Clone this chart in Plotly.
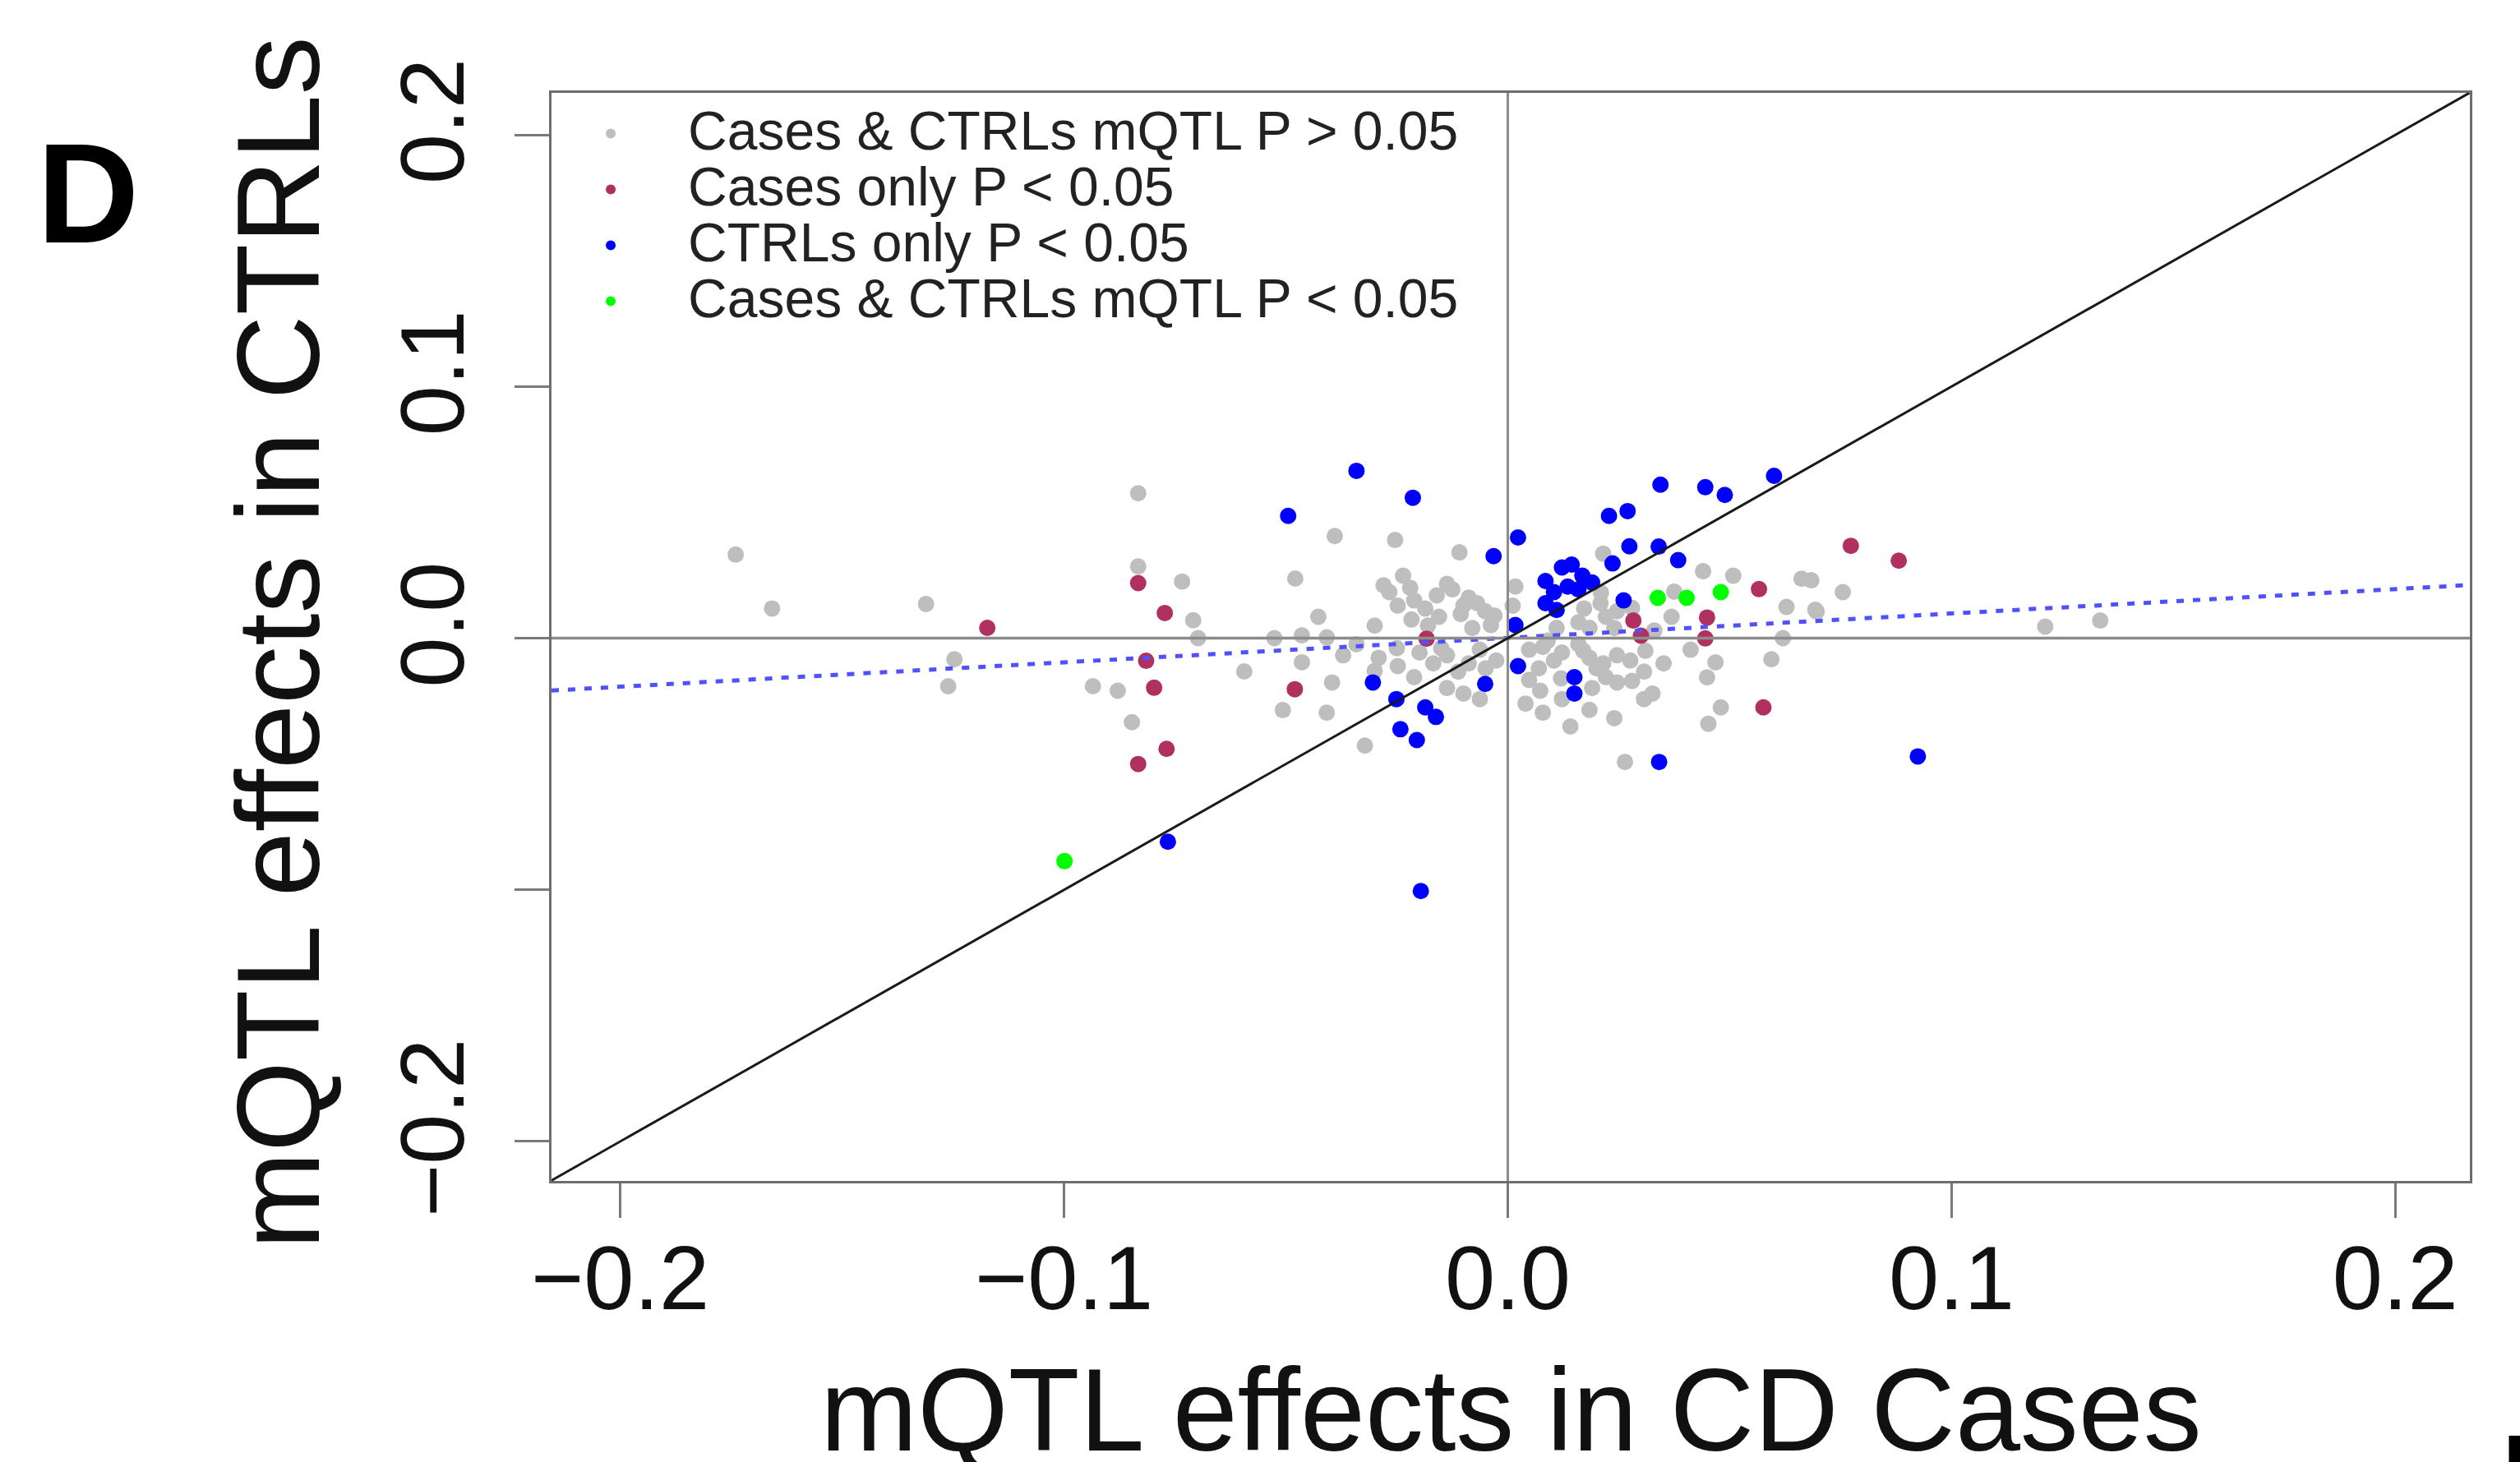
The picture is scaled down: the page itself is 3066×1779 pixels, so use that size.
import plotly.graph_objects as go

# ---------------- data ----------------
gray_x = [-0.174, -0.1658, -0.1311, -0.1261, -0.1247, -0.0833, -0.0833, -0.0734, -0.0709, -0.0935,
          -0.0879, -0.0847, -0.0698, -0.0594, -0.0479, -0.0526, -0.0464, -0.0464, -0.0507,
          -0.039, -0.0254, -0.0109, -0.0427, -0.0236, -0.0267, -0.0248, -0.0211, -0.0186, -0.0137,
          -0.0125, -0.0088, -0.0069, -0.0051, -0.0106, -0.0155, -0.0217, -0.0038, 0.0017, 0.0011,
          -0.0408, -0.0341, -0.0371, -0.0291, -0.0248, -0.0199, -0.0168, -0.0137, -0.0112, -0.0088,
          -0.0063, -0.0026, -0.0396, -0.0408, -0.0322, -0.010, -0.0063, -0.0137, -0.0211,
          0.0215, 0.0172, 0.0209, 0.0221, 0.0159, 0.011, 0.0184, 0.0246, 0.0369, 0.0412,
          0.0048, 0.0079, 0.0104, 0.0122, 0.0159, 0.0184, 0.0215, 0.0246, 0.0276, 0.0307,
          0.0351, 0.0326, 0.0307, 0.0246, 0.019, 0.0122, 0.0073, 0.0079, 0.0184, 0.024,
          0.0141, 0.0264, 0.0221, 0.0048,
          0.044, 0.0508, 0.0662, 0.0628, 0.0693, 0.062, 0.0594, 0.0468, 0.0449, 0.048, 0.0452, 0.0375,
          0.0684, 0.0755, 0.0696, 0.1211, 0.1335,
          -0.028, -0.022, -0.016, -0.010, -0.003, -0.018, -0.008, -0.030,
          0.007, 0.012, 0.020, 0.028, 0.017, 0.009, 0.031, 0.004, -0.005, -0.015, -0.025, -0.030,
          0.021, 0.024, 0.028, 0.033]
gray_y = [0.0332, 0.0118, 0.0136, -0.0191, -0.0084, 0.0576, 0.0285, 0.0225, 0.0071, -0.0191,
          -0.0209, -0.0334, 0.0, -0.0132, 0.0237, 0.0, 0.0011, -0.0096, -0.0286,
          0.0406, 0.039, 0.0341, 0.0085, 0.0248, 0.0183, 0.0129, 0.015, 0.0118, 0.0216,
          0.0194, 0.0161, 0.0139, 0.0107, 0.0096, 0.0085, 0.0074, 0.0052, 0.0205, 0.0129,
          0.0003, -0.0024, -0.0068, -0.0078, -0.0111, -0.0057, -0.010, -0.0068, -0.0133, -0.010,
          -0.0046, -0.0089, -0.0176, -0.0296, -0.0427, -0.022, -0.0242, -0.0198, -0.0155,
          0.0336, 0.0118, 0.0139, 0.0085, 0.0063, 0.0041, 0.0041, 0.0107, 0.0085, -0.0046,
          -0.0046, -0.0035, -0.0089, -0.0057, -0.0024, -0.0078, -0.010, -0.0068, -0.0089, -0.0133,
          -0.010, -0.022, -0.0242, -0.0176, -0.0198, -0.0242, -0.0209, -0.0296, -0.0285, -0.0318,
          -0.0351, -0.0492, -0.0155, -0.0166,
          0.0266, 0.0248, 0.0236, 0.0124, 0.0113, 0.0, -0.0084, -0.0096, -0.0156, -0.0275, -0.034, 0.0185,
          0.023, 0.0183, 0.0106, 0.0046, 0.007,
          0.021, 0.020, 0.017, 0.013, 0.009, 0.005, 0.004, 0.005,
          -0.012, -0.016, -0.012, -0.017, -0.005, -0.001, -0.005, -0.026, -0.012, -0.004, -0.004, -0.013,
          0.018, 0.004, 0.012, 0.003]

red_x = [-0.1173, -0.0833, -0.0773, -0.0815, -0.0797, -0.0769, -0.0833, -0.0183, -0.048,
         0.0283, 0.030, 0.0566, 0.0449, 0.0445, 0.0576, 0.0773, 0.0881]
red_y = [0.0041, 0.0219, 0.010, -0.009, -0.0197, -0.044, -0.050, -0.0002, -0.0203,
         0.007, 0.001, 0.0195, 0.0082, -0.0001, -0.0275, 0.0367, 0.0308]

blue_x = [-0.0341, -0.0214, -0.0495, 0.0023, -0.0032, 0.0344, 0.0445, 0.0489, 0.060, 0.0228,
          0.027, 0.0274, 0.034, 0.0384, 0.0236, 0.0085, 0.0122, 0.0144, 0.0168, 0.019,
          0.0104, 0.0135, 0.0159, 0.0085, 0.011, 0.0261, 0.0017, 0.0023, 0.015, 0.015,
          -0.0051, -0.0304, -0.0251, -0.0186, -0.0162, -0.0242, -0.0205, 0.0341, -0.0196,
          -0.0766, 0.0924]
blue_y = [0.0665, 0.0558, 0.0486, 0.040, 0.0326, 0.061, 0.060, 0.0569, 0.0645, 0.0486,
          0.0505, 0.0365, 0.0364, 0.031, 0.0297, 0.0227, 0.0281, 0.0292, 0.0248, 0.0221,
          0.0183, 0.0205, 0.0194, 0.0139, 0.0112, 0.015, 0.0052, -0.0111, -0.0155, -0.022,
          -0.0182, -0.0176, -0.0242, -0.0275, -0.0313, -0.0362, -0.0405, -0.0492, -0.1005,
          -0.0809, -0.047]

green_x = [-0.0999, 0.0338, 0.0403, 0.048]
green_y = [-0.0886, 0.016, 0.016, 0.0183]

# fitted regression line (CTRL effect ~ case effect)
reg_intercept = 0.0001
reg_slope = 0.097

x_range = [-0.2155, 0.2168]
y_range = [-0.2157, 0.2167]
x_tickvals = [-0.2, -0.1, 0.0, 0.1, 0.2]
x_ticktext = ["\u22120.2", "\u22120.1", "0.0", "0.1", "0.2"]
y_tickvals = [-0.2, -0.1, 0.0, 0.1, 0.2]
y_ticktext = ["\u22120.2", "", "0.0", "0.1", "0.2"]

legend_names = ["Cases &amp; CTRLs mQTL P &gt; 0.05", "Cases only P &lt; 0.05",
                "CTRLs only P &lt; 0.05", "Cases &amp; CTRLs mQTL P &lt; 0.05"]
x_title = "mQTL effects in CD Cases"
y_title = "mQTL effects in CTRLs"

# ---------------- figure ----------------
FONT = "Liberation Sans, Arial, Helvetica, sans-serif"
W, H = 3066, 1779
ML, MR, MT, MB = 671, 61, 113, 342
PT = 20

def lg(name):
    return '<span style="font-size:66px">' + name + '</span>'

fig = go.Figure()
series = [(gray_x, gray_y, "#BEBEBE"), (red_x, red_y, "#B03060"),
          (blue_x, blue_y, "#0000FF"), (green_x, green_y, "#00FF00")]
for (xs, ys, col), nm in zip(series, legend_names):
    fig.add_trace(go.Scatter(x=xs, y=ys, mode="markers", name=lg(nm),
                             marker=dict(color=col, size=PT, line=dict(width=0))))

# regression line drawn from its coefficients across the axis range
fig.add_trace(go.Scatter(x=x_range, y=[reg_intercept + reg_slope * v for v in x_range],
                         mode="lines", showlegend=False, hoverinfo="skip",
                         line=dict(color="#5050FF", width=5, dash="9px,11px")))

fig.add_shape(type="line", xref="x", yref="y domain", x0=0, x1=0, y0=0, y1=1,
              line=dict(color="#8c8c8c", width=3), layer="above")
fig.add_shape(type="line", xref="x domain", yref="y", x0=0, x1=1, y0=0, y1=0,
              line=dict(color="#8c8c8c", width=3.5), layer="above")
fig.add_shape(type="line", xref="x", yref="y", x0=x_range[0], y0=x_range[0],
              x1=y_range[1], y1=y_range[1], line=dict(color="#1a1a1a", width=3), layer="above")

axis_common = dict(showgrid=False, zeroline=False, showline=True, mirror=True,
                   linecolor="#6e6e6e", linewidth=3, ticks="outside", ticklen=42,
                   tickwidth=2.5, tickcolor="#7a7a7a",
                   tickfont=dict(family=FONT, size=110, color="#111"))

fig.update_layout(
    width=W, height=H,
    margin=dict(l=ML, r=MR, t=MT, b=MB, autoexpand=False),
    paper_bgcolor="white", plot_bgcolor="white",
    font=dict(family=FONT, color="#111"),
    xaxis=dict(range=x_range, tickvals=x_tickvals, ticktext=x_ticktext,
               ticklabelstandoff=-21, **axis_common),
    yaxis=dict(range=y_range, tickvals=y_tickvals, ticktext=y_ticktext, tickangle=-90,
               ticklabelstandoff=18, **axis_common),
    legend=dict(x=-0.0094, y=0.992, xanchor="left", yanchor="top", bgcolor="rgba(0,0,0,0)",
                borderwidth=0, font=dict(family=FONT, size=50, color="#222"),
                itemsizing="constant", itemwidth=178, tracegroupgap=0),
    showlegend=True,
    annotations=[
        dict(text=x_title, xref="paper", yref="paper", x=0.5, y=-0.2107,
             xanchor="center", yanchor="middle", showarrow=False,
             font=dict(family=FONT, size=142, color="#111")),
        dict(text=y_title, xref="paper", yref="paper", x=-0.1427, y=0.4947,
             xanchor="center", yanchor="middle", textangle=-90, showarrow=False,
             font=dict(family=FONT, size=142, color="#111")),
        dict(text="<b>D</b>", xref="paper", yref="paper", x=-0.2416, y=0.908,
             xanchor="center", yanchor="middle", showarrow=False,
             font=dict(family=FONT, size=172, color="black")),
        dict(text="<b>E</b>", xref="paper", yref="paper", x=1.0145, y=-0.205,
             xanchor="left", yanchor="top", showarrow=False,
             font=dict(family=FONT, size=172, color="black")),
    ],
)

fig.write_html("out.html", config={"displayModeBar": False},
               post_script="document.body.style.margin='0';")
